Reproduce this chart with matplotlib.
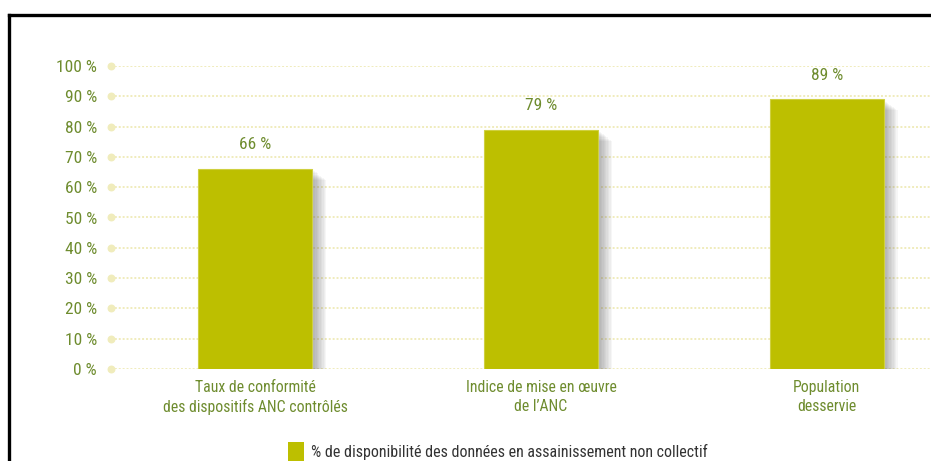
import matplotlib
matplotlib.use("Agg")
import matplotlib.pyplot as plt
import matplotlib.patheffects as pe
from matplotlib.lines import Line2D
from matplotlib.patches import Patch
from matplotlib import font_manager

categories = ["Taux de conformité\ndes dispositifs ANC contrôlés",
              "Indice de mise en œuvre\nde l’ANC",
              "Population\ndesservie"]
values = [66, 79, 89]
yticks = [0, 10, 20, 30, 40, 50, 60, 70, 80, 90, 100]
series_label = "% de disponibilité des données en assainissement non collectif"

bar_color = "#bdbf00"
text_color = "#6e8c2e"
grid_color = "#f0ecbc"

# pick a condensed face if one is installed
names = {f.name for f in font_manager.fontManager.ttflist}
narrow = [n for n in ("Liberation Sans Narrow", "DejaVu Sans Condensed", "Roboto Condensed")
          if n in names]
plt.rcParams['font.family'] = narrow + ['Liberation Sans', 'DejaVu Sans']
if not narrow:
    plt.rcParams['font.stretch'] = 'condensed'

fig = plt.figure(figsize=(9.31, 4.61), dpi=100)
ax = fig.add_axes([111/931, 1 - 369/461, 1 - 111/931, (369 - 66)/461])

x = list(range(len(categories)))
shadow = [pe.SimplePatchShadow(offset=(dx, -dx * 0.8), shadow_rgbFace="#505050", alpha=0.05)
          for dx in (2, 3, 4, 5, 6, 7, 8, 9, 10)]
bars = ax.bar(x, values, width=0.40, color=bar_color, edgecolor="#cfd040",
              linewidth=0.8, label=series_label, zorder=3,
              path_effects=shadow + [pe.Normal()])

for xi, v in zip(x, values):
    ax.annotate(f"{v} %", (xi, v), xytext=(0, 12), textcoords="offset points",
                ha="center", va="bottom", color=text_color, fontsize=12.5)

ax.set_xlim(-0.505, 2.365)
ax.set_ylim(0, 100)
ax.set_yticks(yticks)
ax.set_yticklabels([f"{t} %" for t in yticks], color=text_color, fontsize=12.5)
ax.set_xticks(x)
ax.set_xticklabels(categories, color=text_color, fontsize=11.3, linespacing=1.3)
ax.tick_params(axis="both", length=0)
ax.tick_params(axis="y", pad=10)
ax.tick_params(axis="x", pad=8)
for s in ax.spines.values():
    s.set_visible(False)
ax.grid(axis="y", color=grid_color, linestyle=(0, (1, 1)), linewidth=1.4, zorder=0)
ax.scatter([ax.get_xlim()[0]] * len(yticks), yticks, s=22, color=grid_color,
           clip_on=False, zorder=2)

handle = Patch(facecolor=bar_color, edgecolor="none")
leg = fig.legend(handles=[handle], labels=[series_label], loc="upper left",
                 bbox_to_anchor=(274/931, 1 - 428/461), frameon=False,
                 handlelength=1.0, handleheight=1.4, handletextpad=0.4,
                 fontsize=11.5)
for t in leg.get_texts():
    t.set_color("#333333")

# black frame (top and left edges visible)
fig.add_artist(Line2D([9/931, 1.01], [1 - 15/461, 1 - 15/461], color="black",
                      linewidth=2.4, transform=fig.transFigure))
fig.add_artist(Line2D([9/931, 9/931], [1 - 15/461, -0.01], color="black",
                      linewidth=2.4, transform=fig.transFigure))

fig.savefig("out.png", dpi=100)
